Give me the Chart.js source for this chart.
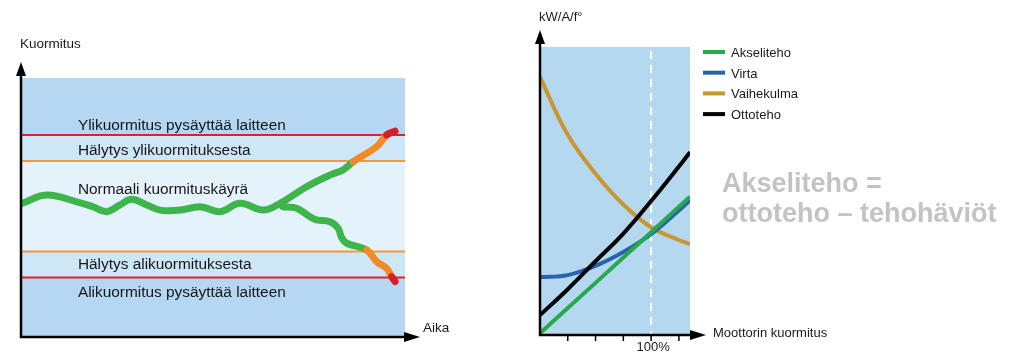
<!DOCTYPE html>
<html>
<head>
<meta charset="utf-8">
<script src="https://cdn.jsdelivr.net/npm/chart.js@4/dist/chart.umd.min.js"></script>
<style>
  html, body { margin: 0; padding: 0; background: #fff; width: 1024px; height: 358px; overflow: hidden; }
  canvas { position: absolute; top: 0; }
  #load { left: 0; }
  #motor { left: 470px; }
</style>
</head>
<body>
<canvas id="load" width="470" height="358"></canvas>
<canvas id="motor" width="554" height="358"></canvas>
<script>
// --- left chart: load over time (x = time, y = load, both 0..100)
const loadX = [0, 6.4, 14.3, 18.5, 22.1, 25.6, 28.6, 32.6, 36.0, 41.3, 46.5, 51.7, 56.9, 63.0, 67.4, 74.3, 80.4, 83.8, 86.5, 92.6, 95.2, 97.4];
const loadY = [51.6, 54.8, 52.2, 50.3, 48.4, 51.0, 53.2, 51.0, 49.0, 49.0, 50.3, 48.4, 51.6, 49.0, 51.6, 58.0, 62.5, 64.5, 67.7, 73.5, 78.0, 79.5];
const dropX = [68.1, 71.7, 75.2, 76.9, 80.4, 82.5, 83.5, 84.8, 90.0, 92.6, 95.2, 96.5, 97.4];
const dropY = [50.3, 49.7, 46.4, 45.2, 44.5, 42.1, 38.2, 36.2, 33.6, 29.1, 26.5, 23.3, 21.4];

const stopHigh = 78, alarmHigh = 68, alarmLow = 33, stopLow = 23;

const zoneLabels = [
  { text: 'Ylikuormitus pysäyttää laitteen', y: 79.9 },
  { text: 'Hälytys ylikuormituksesta', y: 70.3 },
  { text: 'Normaali kuormituskäyrä', y: 55.2 },
  { text: 'Hälytys alikuormituksesta', y: 26.1 },
  { text: 'Alikuormitus pysäyttää laitteen', y: 15.6 }
];
const zoneLabelX = 14.6;

// --- right chart: motor load (x = % of nominal load)
const motorX = [0, 25, 50, 75, 100, 125, 135];
const akseliteho = [0.6, 9.4, 18.1, 26.9, 35.7, 44.5, 48.0];
const virta = [20.1, 20.8, 24.0, 28.8, 35.0, 43.2, 46.8];
const vaihekulma = [89.5, 69.5, 56.0, 45.3, 37.4, 33.0, 31.5];
const ottoteho = [6.9, 15.9, 25.6, 35.2, 46.5, 58.5, 63.5];
const motorTicks = [25, 50, 75, 100, 125];
const motorTickLabels = ['', '', '', '100%', ''];

const FONT = "'Liberation Sans', Arial, sans-serif";

function pts(xs, ys) {
  return xs.map((x, i) => ({ x, y: ys[i] }));
}

function zoneColor(y) {
  if (y > stopHigh || y < stopLow) return '#d71d2b';
  if (y > alarmHigh || y < alarmLow) return '#f28a26';
  return '#3db54a';
}

function drawAxes(ctx, x0, y0, yTip, xTip) {
  ctx.save();
  ctx.strokeStyle = '#000';
  ctx.fillStyle = '#000';
  ctx.lineWidth = 2.5;
  ctx.beginPath();
  ctx.moveTo(x0, yTip + 10);
  ctx.lineTo(x0, y0);
  ctx.lineTo(xTip - 10, y0);
  ctx.stroke();
  ctx.beginPath();
  ctx.moveTo(x0, yTip);
  ctx.lineTo(x0 - 5, yTip + 14);
  ctx.lineTo(x0 + 5, yTip + 14);
  ctx.closePath();
  ctx.fill();
  ctx.beginPath();
  ctx.moveTo(xTip, y0);
  ctx.lineTo(xTip - 16, y0 - 5);
  ctx.lineTo(xTip - 16, y0 + 5);
  ctx.closePath();
  ctx.fill();
  ctx.restore();
}

const loadDecor = {
  id: 'loadDecor',
  beforeDatasetsDraw(chart) {
    const { ctx, chartArea: a, scales: { y } } = chart;
    const bands = [
      [0, stopLow, '#b5d7f1'], [stopLow, alarmLow, '#cde7f7'], [alarmLow, alarmHigh, '#e3f2fb'],
      [alarmHigh, stopHigh, '#cde7f7'], [stopHigh, 100, '#b5d7f1']
    ];
    ctx.save();
    bands.forEach(([lo, hi, c]) => {
      const top = y.getPixelForValue(hi), bot = y.getPixelForValue(lo);
      ctx.fillStyle = c;
      ctx.fillRect(a.left, top, a.right - a.left, bot - top);
    });
    ctx.fillStyle = '#161616';
    ctx.font = '15.4px ' + FONT;
    const lx = chart.scales.x.getPixelForValue(zoneLabelX);
    zoneLabels.forEach(l => ctx.fillText(l.text, lx, y.getPixelForValue(l.y)));
    ctx.restore();
  },
  afterDatasetsDraw(chart) {
    const { ctx, chartArea: a } = chart;
    drawAxes(ctx, a.left - 1, a.bottom, 62, 420);
    ctx.save();
    ctx.fillStyle = '#1a1a1a';
    ctx.font = '13.5px ' + FONT;
    ctx.fillText('Kuormitus', 20, 48);
    ctx.fillText('Aika', 423, 332);
    ctx.restore();
  }
};

new Chart(document.getElementById('load'), {
  type: 'line',
  data: {
    datasets: [
      {
        data: pts(loadX, loadY), borderWidth: 7, tension: 0.4, pointRadius: 0, order: 0,
        borderColor: '#3db54a', borderCapStyle: 'round', borderJoinStyle: 'round',
        segment: { borderColor: c => zoneColor((c.p0.parsed.y + c.p1.parsed.y) / 2) }
      },
      {
        data: pts(dropX, dropY), borderWidth: 7, tension: 0.4, pointRadius: 0, order: 0,
        borderColor: '#3db54a', borderCapStyle: 'round', borderJoinStyle: 'round',
        segment: { borderColor: c => zoneColor((c.p0.parsed.y + c.p1.parsed.y) / 2) }
      },
      { data: pts([0, 100], [stopHigh, stopHigh]), borderColor: '#d9232e', borderWidth: 2, pointRadius: 0, order: 1 },
      { data: pts([0, 100], [alarmHigh, alarmHigh]), borderColor: '#f29a3a', borderWidth: 2, pointRadius: 0, order: 1 },
      { data: pts([0, 100], [alarmLow, alarmLow]), borderColor: '#f29a3a', borderWidth: 2, pointRadius: 0, order: 1 },
      { data: pts([0, 100], [stopLow, stopLow]), borderColor: '#d9232e', borderWidth: 2, pointRadius: 0, order: 1 }
    ]
  },
  options: {
    responsive: false,
    animation: false,
    devicePixelRatio: 1,
    layout: { padding: { left: 22, right: 65, top: 78, bottom: 21 } },
    scales: {
      x: { type: 'linear', min: 0, max: 100, display: false },
      y: { type: 'linear', min: 0, max: 100, display: false }
    },
    plugins: { legend: { display: false }, tooltip: { enabled: false } }
  },
  plugins: [loadDecor]
});

const motorDecor = {
  id: 'motorDecor',
  beforeDatasetsDraw(chart) {
    const { ctx, chartArea: a, scales: { x } } = chart;
    ctx.save();
    ctx.fillStyle = '#b5d8f1';
    ctx.fillRect(a.left, a.top, a.right - a.left, a.bottom - a.top);
    const px = x.getPixelForValue(100);
    ctx.strokeStyle = '#fff';
    ctx.lineWidth = 2;
    ctx.setLineDash([8, 6]);
    ctx.beginPath();
    ctx.moveTo(px, a.top + 4);
    ctx.lineTo(px, a.bottom);
    ctx.stroke();
    ctx.restore();
  },
  afterDatasetsDraw(chart) {
    const { ctx, chartArea: a, scales: { x } } = chart;
    drawAxes(ctx, a.left, a.bottom, 30, 236);
    ctx.save();
    ctx.strokeStyle = '#000';
    ctx.lineWidth = 1.5;
    ctx.fillStyle = '#1a1a1a';
    ctx.font = '13px ' + FONT;
    ctx.textAlign = 'center';
    motorTicks.forEach((t, i) => {
      const px = x.getPixelForValue(t);
      ctx.beginPath();
      ctx.moveTo(px, a.bottom);
      ctx.lineTo(px, a.bottom + 6);
      ctx.stroke();
      if (motorTickLabels[i]) ctx.fillText(motorTickLabels[i], px + 2, 351);
    });
    ctx.textAlign = 'left';
    ctx.fillText('kW/A/f°', 69, 21);
    ctx.fillText('Moottorin kuormitus', 243, 337);

    // legend
    chart.data.datasets.forEach((ds, i) => {
      const ly = 52 + i * 20.7;
      ctx.strokeStyle = ds.borderColor;
      ctx.lineWidth = 4;
      ctx.beginPath();
      ctx.moveTo(233, ly);
      ctx.lineTo(255, ly);
      ctx.stroke();
      ctx.fillStyle = '#1a1a1a';
      ctx.fillText(ds.label, 261, ly + 5);
    });

    ctx.fillStyle = '#c3c3c3';
    ctx.font = 'bold 27px ' + FONT;
    ctx.fillText('Akseliteho =', 252, 192);
    ctx.fillText('ottoteho – tehohäviöt', 252, 222, 280);
    ctx.restore();
  }
};

new Chart(document.getElementById('motor'), {
  type: 'line',
  data: {
    datasets: [
      { label: 'Akseliteho', data: pts(motorX, akseliteho), borderColor: '#27a94b', borderWidth: 4, pointRadius: 0, order: 1 },
      { label: 'Virta', data: pts(motorX, virta), borderColor: '#2b62ae', borderWidth: 4, pointRadius: 0, tension: 0.4, order: 2 },
      { label: 'Vaihekulma', data: pts(motorX, vaihekulma), borderColor: '#c9962f', borderWidth: 4, pointRadius: 0, tension: 0.4, order: 3 },
      { label: 'Ottoteho', data: pts(motorX, ottoteho), borderColor: '#000000', borderWidth: 4, pointRadius: 0, tension: 0.4, order: 0 }
    ]
  },
  options: {
    responsive: false,
    animation: false,
    devicePixelRatio: 1,
    layout: { padding: { left: 70, right: 334, top: 47, bottom: 23 } },
    scales: {
      x: { type: 'linear', min: 0, max: 135, display: false },
      y: { type: 'linear', min: 0, max: 100, display: false }
    },
    plugins: { legend: { display: false }, tooltip: { enabled: false } }
  },
  plugins: [motorDecor]
});
</script>
</body>
</html>
